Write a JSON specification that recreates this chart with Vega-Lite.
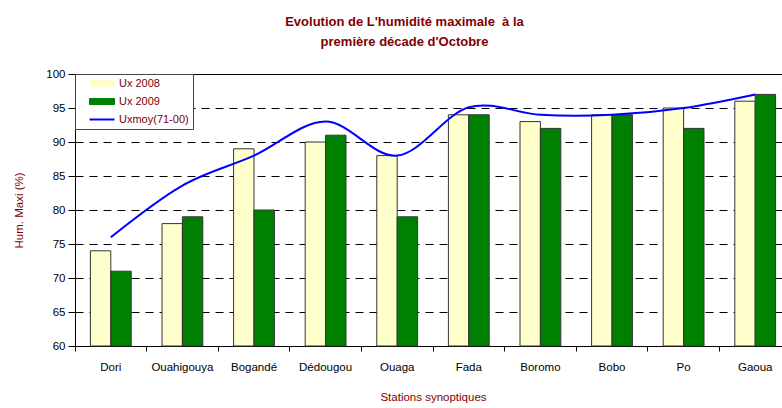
{
  "$schema": "https://vega.github.io/schema/vega-lite/v6.json",
  "width": 707,
  "height": 272,
  "autosize": "none",
  "padding": {"left": 75, "top": 74, "right": 0, "bottom": 62},
  "background": "white",
  "config": {"font": "Liberation Sans", "view": {"stroke": null}},
  "title": {
    "text": ["Evolution de L'humidité maximale \u00a0à la", "première décade d'Octobre"],
    "font": "Liberation Sans",
    "fontSize": 13,
    "fontWeight": "bold",
    "color": "#800000",
    "lineHeight": 20,
    "anchor": "middle",
    "dx": -24,
    "offset": 19
  },
  "data": {
    "values": [
      {"station": "Dori", "series": "Ux 2008", "value": 74},
      {"station": "Dori", "series": "Ux 2009", "value": 71},
      {"station": "Dori", "series": "Uxmoy(71-00)", "value": 76},
      {"station": "Ouahigouya", "series": "Ux 2008", "value": 78},
      {"station": "Ouahigouya", "series": "Ux 2009", "value": 79},
      {"station": "Ouahigouya", "series": "Uxmoy(71-00)", "value": 83.6},
      {"station": "Bogandé", "series": "Ux 2008", "value": 89},
      {"station": "Bogandé", "series": "Ux 2009", "value": 80},
      {"station": "Bogandé", "series": "Uxmoy(71-00)", "value": 88},
      {"station": "Dédougou", "series": "Ux 2008", "value": 90},
      {"station": "Dédougou", "series": "Ux 2009", "value": 91},
      {"station": "Dédougou", "series": "Uxmoy(71-00)", "value": 93},
      {"station": "Ouaga", "series": "Ux 2008", "value": 88},
      {"station": "Ouaga", "series": "Ux 2009", "value": 79},
      {"station": "Ouaga", "series": "Uxmoy(71-00)", "value": 88},
      {"station": "Fada", "series": "Ux 2008", "value": 94},
      {"station": "Fada", "series": "Ux 2009", "value": 94},
      {"station": "Fada", "series": "Uxmoy(71-00)", "value": 95.1},
      {"station": "Boromo", "series": "Ux 2008", "value": 93},
      {"station": "Boromo", "series": "Ux 2009", "value": 92},
      {"station": "Boromo", "series": "Uxmoy(71-00)", "value": 94},
      {"station": "Bobo", "series": "Ux 2008", "value": 94},
      {"station": "Bobo", "series": "Ux 2009", "value": 94},
      {"station": "Bobo", "series": "Uxmoy(71-00)", "value": 94},
      {"station": "Po", "series": "Ux 2008", "value": 95},
      {"station": "Po", "series": "Ux 2009", "value": 92},
      {"station": "Po", "series": "Uxmoy(71-00)", "value": 95},
      {"station": "Gaoua", "series": "Ux 2008", "value": 96},
      {"station": "Gaoua", "series": "Ux 2009", "value": 97},
      {"station": "Gaoua", "series": "Uxmoy(71-00)", "value": 97}
    ]
  },
  "encoding": {
    "x": {
      "field": "station",
      "type": "nominal",
      "sort": null,
      "scale": {"range": [0, 716], "paddingInner": 0, "paddingOuter": 0},
      "axis": {
        "title": "Stations synoptiques",
        "labelAngle": 0,
        "bandPosition": 0,
        "tickSize": 5,
        "labelPadding": 10,
        "labelFontSize": 11.5,
        "labelColor": "#000",
        "domainColor": "#000",
        "tickColor": "#000",
        "titleColor": "#800000",
        "titleFontSize": 11.5,
        "titleFontWeight": "normal",
        "titlePadding": 19,
        "grid": false
      }
    },
    "y": {
      "field": "value",
      "type": "quantitative",
      "scale": {"domain": [60, 100], "nice": false, "zero": false},
      "axis": {
        "title": "Hum. Maxi (%)",
        "values": [60, 65, 70, 75, 80, 85, 90, 95, 100],
        "tickSize": 7,
        "labelPadding": 3,
        "labelFontSize": 11.5,
        "labelColor": "#000",
        "domainColor": "#000",
        "tickColor": "#000",
        "titleColor": "#800000",
        "titleFontSize": 11.5,
        "titleFontWeight": "normal",
        "titlePadding": 21,
        "grid": true,
        "gridColor": "#000",
        "gridOpacity": 1,
        "gridDash": {"condition": {"test": "datum.value === 100", "value": []}, "value": [8, 6]}
      }
    },
    "color": {
      "field": "series",
      "type": "nominal",
      "scale": {
        "domain": ["Ux 2008", "Ux 2009", "Uxmoy(71-00)"],
        "range": ["#FFFFCC", "#008000", "#0000FF"]
      },
      "legend": {
        "title": null,
        "orient": "top-left",
        "offset": 0,
        "padding": 4,
        "fillColor": "#ffffff",
        "strokeColor": "#444444",
        "symbolSize": 100,
        "symbolOffset": 17.5,
        "labelOffset": 11.5,
        "rowPadding": 6,
        "labelFontSize": 11,
        "labelColor": "#800000",
        "encode": {
          "symbols": {
            "update": {
              "shape": {"signal": "datum.value === 'Uxmoy(71-00)' ? 'M-2.5,0H2.5' : 'M-2.5,-0.6H2.5V0.6H-2.5Z'"},
              "fill": {"signal": "datum.value === 'Ux 2008' ? '#FFFFCC' : (datum.value === 'Ux 2009' ? '#008000' : 'transparent')"},
              "stroke": {"signal": "datum.value === 'Uxmoy(71-00)' ? '#0000FF' : '#000000'"},
              "strokeWidth": {"signal": "datum.value === 'Uxmoy(71-00)' ? 2 : 1"},
              "opacity": {"value": 1}
            }
          }
        }
      }
    }
  },
  "layer": [
    {
      "transform": [{"filter": "datum.series !== 'Uxmoy(71-00)'"}],
      "mark": {"type": "bar", "stroke": "#333333", "strokeWidth": 1},
      "encoding": {
        "xOffset": {"field": "series", "type": "nominal", "scale": {"paddingOuter": 0.755, "paddingInner": 0}},
        "y2": {"datum": 60}
      }
    },
    {
      "transform": [{"filter": "datum.series === 'Uxmoy(71-00)'"}],
      "mark": {"type": "line", "interpolate": "cardinal", "strokeWidth": 2}
    }
  ]
}
